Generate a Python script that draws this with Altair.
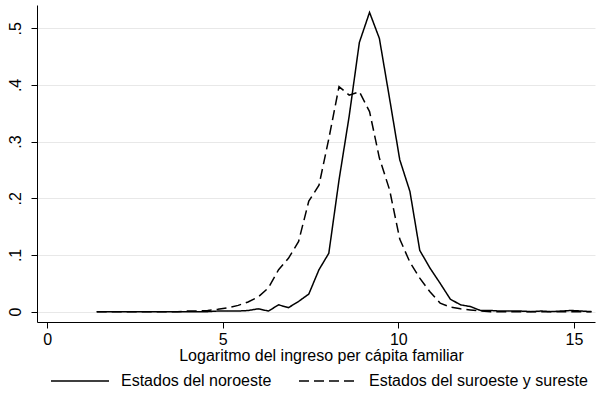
import altair as alt
import pandas as pd

# Evaluation points of the log per-capita household income
x_points = [1.41, 1.70, 1.99, 2.27, 2.56, 2.85, 3.14, 3.42, 3.71, 4.00,
            4.29, 4.57, 4.86, 5.15, 5.44, 5.72, 6.01, 6.30, 6.59, 6.87,
            7.16, 7.45, 7.74, 8.02, 8.31, 8.60, 8.89, 9.18, 9.46, 9.75,
            10.04, 10.33, 10.61, 10.90, 11.19, 11.48, 11.77, 12.05, 12.34, 12.63,
            12.91, 13.20, 13.49, 13.78, 14.07, 14.35, 14.64, 14.93, 15.22, 15.50]

# Estimated densities
noroeste = [0.000, 0.000, 0.000, 0.000, 0.000, 0.000, 0.000, 0.000, 0.000, 0.000,
            0.000, 0.000, 0.001, 0.001, 0.001, 0.002, 0.005, 0.001, 0.012, 0.007,
            0.018, 0.031, 0.074, 0.103, 0.232, 0.345, 0.475, 0.528, 0.482, 0.376,
            0.268, 0.212, 0.108, 0.077, 0.050, 0.022, 0.012, 0.009, 0.002, 0.002,
            0.001, 0.001, 0.001, 0.000, 0.001, 0.000, 0.001, 0.002, 0.001, 0.000]

suroeste = [0.000, 0.000, 0.000, 0.000, 0.000, 0.000, 0.000, 0.000, 0.000, 0.001,
            0.001, 0.002, 0.004, 0.007, 0.011, 0.017, 0.026, 0.042, 0.074, 0.094,
            0.124, 0.195, 0.223, 0.305, 0.397, 0.382, 0.388, 0.353, 0.271, 0.215,
            0.128, 0.087, 0.059, 0.035, 0.015, 0.008, 0.005, 0.003, 0.001, 0.000,
            0.000, 0.000, 0.000, 0.000, 0.000, 0.000, 0.000, 0.000, 0.000, 0.000]

series_names = ["Estados del noroeste", "Estados del suroeste y sureste"]
x_ticks = [0, 5, 10, 15]
y_ticks = [0, 0.1, 0.2, 0.3, 0.4, 0.5]

rows = []
for name, values in zip(series_names, [noroeste, suroeste]):
    for xv, yv in zip(x_points, values):
        rows.append({"serie": name, "x": xv, "y": yv})
df = pd.DataFrame(rows)

FONT = "Liberation Sans"

chart = (
    alt.Chart(df)
    .mark_line(color="black", strokeWidth=1.5, clip=True)
    .encode(
        x=alt.X(
            "x:Q",
            scale=alt.Scale(domain=[-0.29, 15.6], nice=False, zero=False),
            axis=alt.Axis(
                values=x_ticks,
                grid=False,
                title="Logaritmo del ingreso per cápita familiar",
                titleX=284,
                labelPadding=3,
                titlePadding=0,
            ),
        ),
        y=alt.Y(
            "y:Q",
            scale=alt.Scale(domain=[-0.0183, 0.541], nice=False, zero=False),
            axis=alt.Axis(
                values=y_ticks,
                grid=True,
                gridColor="#e8e8e8",
                gridWidth=1,
                title=None,
                labelAngle=270,
                labelPadding=8,
                labelExpr="datum.value == 0 ? '0' : replace(format(datum.value, '.1f'), '0.', '.')",
            ),
        ),
        strokeDash=alt.StrokeDash(
            "serie:N",
            scale=alt.Scale(domain=series_names, range=[[1, 0], [10, 5]]),
            legend=alt.Legend(
                title=None,
                orient="none",
                direction="horizontal",
                legendX=13,
                legendY=346,
                symbolType="stroke",
                symbolSize=3364,
                symbolStrokeWidth=1.5,
                symbolStrokeColor="black",
                labelFont=FONT,
                labelFontSize=16,
                labelColor="black",
                labelLimit=400,
                labelOffset=11,
                columnPadding=24,
                padding=0,
            ),
        ),
        detail="serie:N",
    )
    .properties(
        width=558,
        height=317,
        autosize=alt.AutoSizeParams(type="none"),
        padding={"left": 37, "top": 5, "right": 1, "bottom": 72},
        background="white",
    )
    .configure_view(stroke=None)
    .configure_axis(
        domainColor="black",
        domainWidth=1,
        tickColor="black",
        tickSize=6,
        tickWidth=1,
        labelFont=FONT,
        labelFontSize=16,
        labelColor="black",
        titleFont=FONT,
        titleFontSize=16,
        titleFontWeight="normal",
        titleColor="black",
    )
)

chart.save("out.html", embed_options={"renderer": "svg", "actions": False})
